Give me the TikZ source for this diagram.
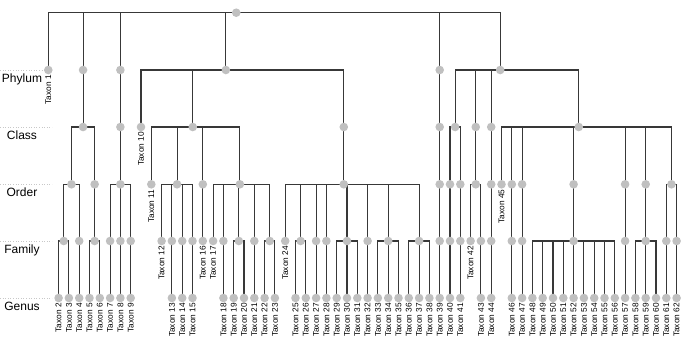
\documentclass[tikz,border=0pt]{standalone}
\usepackage{fontspec}
\setmainfont{Liberation Sans}
\definecolor{dotgray}{HTML}{C0C0C0}
\definecolor{linegray}{HTML}{383838}
\definecolor{guidegray}{HTML}{C8C8C8}
\tikzset{
  edge/.style={draw=linegray, line width=1.1pt},
  dotnode/.style={circle, fill=dotgray, draw=none, minimum size=8.6pt, inner sep=0pt},
  tax/.style={rotate=90, anchor=east, inner sep=0pt, font=\fontsize{8.3}{9}\selectfont},
  lvl/.style={anchor=base, inner sep=0pt, font=\fontsize{12}{14}\selectfont},
  guide/.style={draw=guidegray, dotted, line width=0.6pt}
}
\begin{document}
\begin{tikzpicture}[x=1pt, y=-1pt]
\useasboundingbox (0,0) rectangle (692,343);
% level guides and labels
\foreach \yy/\nm/\lb in {70/phylum/Phylum, 127/class/Class, 184.3/order/Order, 241/family/Family, 298/genus/Genus}{
  \draw[guide] (0,\yy) -- (52,\yy);
  \node[lvl] (lv\nm) at (22,\yy+12.5) {\lb};
}
% leaves
\foreach \n/\lv in {1/70, 2/298, 3/298, 4/298, 5/298, 6/298, 7/298, 8/298, 9/298,
  10/127, 11/184.3, 12/241, 13/298, 14/298, 15/298, 16/241, 17/241,
  18/298, 19/298, 20/298, 21/298, 22/298, 23/298, 24/241,
  25/298, 26/298, 27/298, 28/298, 29/298, 30/298, 31/298, 32/298, 33/298, 34/298,
  35/298, 36/298, 37/298, 38/298, 39/298, 40/298, 41/298, 42/241, 43/298, 44/298,
  45/184.3, 46/298, 47/298, 48/298, 49/298, 50/298, 51/298, 52/298, 53/298, 54/298,
  55/298, 56/298, 57/298, 58/298, 59/298, 60/298, 61/298, 62/298}{
  \coordinate (t\n) at ({48.3+(\n-1)*10.3},\lv);
}
% internal nodes
\coordinate (r) at (236.25,12.7);
\coordinate (pA) at (83.06,70);   \coordinate (cA) at (83.06,127);
\coordinate (oA1) at (71.475,184.3); \coordinate (oA2) at (94.65,184.3);
\coordinate (fA1) at (63.75,241); \coordinate (fA2) at (79.2,241); \coordinate (fA3) at (94.65,241);
\coordinate (pB) at (120.4,70); \coordinate (cB) at (120.4,127); \coordinate (oB) at (120.4,184.3);
\coordinate (fB1) at (110.1,241); \coordinate (fB2) at (120.4,241); \coordinate (fB3) at (130.7,241);
\coordinate (pC) at (225.85,70);
\coordinate (cC1) at (192.76,127); \coordinate (cC2) at (343.78,127);
\coordinate (oC1) at (177.05,184.3); \coordinate (oC2) at (202.8,184.3); \coordinate (oC3) at (239.88,184.3);
\coordinate (oC4) at (343.78,184.3);
\coordinate (f13) at (171.9,241); \coordinate (f14) at (182.2,241); \coordinate (f15) at (192.5,241);
\coordinate (f18) at (223.4,241); \coordinate (f19) at (238.85,241); \coordinate (f21) at (254.3,241);
\coordinate (f22) at (269.75,241);
\coordinate (f25) at (300.65,241); \coordinate (f27) at (316.1,241); \coordinate (f28) at (326.4,241);
\coordinate (f29) at (347.0,241); \coordinate (f32) at (367.6,241); \coordinate (f33) at (388.2,241);
\coordinate (f36) at (419.1,241);
\coordinate (pD) at (439.7,70); \coordinate (cD) at (439.7,127); \coordinate (oD) at (439.7,184.3);
\coordinate (fD) at (439.7,241);
\coordinate (pE) at (500.21,70);
\coordinate (cE1) at (455.15,127); \coordinate (cE2) at (475.75,127); \coordinate (cE3) at (491.2,127);
\coordinate (cE4) at (578.75,127);
\coordinate (oE1) at (450.0,184.3); \coordinate (oE2) at (460.3,184.3); \coordinate (oE3) at (475.75,184.3);
\coordinate (oE4) at (491.2,184.3); \coordinate (oE5) at (511.8,184.3); \coordinate (oE6) at (522.1,184.3);
\coordinate (oE7) at (573.6,184.3); \coordinate (oE8) at (625.1,184.3); \coordinate (oE9) at (645.7,184.3);
\coordinate (oE10) at (671.45,184.3);
\coordinate (f40) at (450.0,241); \coordinate (f41) at (460.3,241); \coordinate (f43) at (480.9,241);
\coordinate (f44) at (491.2,241); \coordinate (f46) at (511.8,241); \coordinate (f47) at (522.1,241);
\coordinate (f48) at (573.6,241); \coordinate (f57) at (625.1,241); \coordinate (f58) at (645.7,241);
\coordinate (f61) at (666.3,241); \coordinate (f62) at (676.6,241);
% connectors
\foreach \c/\p in {t1/r, pA/r, pB/r, pC/r, pD/r, pE/r,
  cA/pA, oA1/cA, oA2/cA, fA1/oA1, fA2/oA1, fA3/oA2, t2/fA1, t3/fA1, t4/fA2, t5/fA3, t6/fA3,
  cB/pB, oB/cB, fB1/oB, fB2/oB, fB3/oB, t7/fB1, t8/fB2, t9/fB3,
  t10/pC, cC1/pC, cC2/pC,
  t11/cC1, oC1/cC1, oC2/cC1, oC3/cC1,
  t12/oC1, f13/oC1, f14/oC1, f15/oC1, t13/f13, t14/f14, t15/f15,
  t16/oC2,
  t17/oC3, f18/oC3, f19/oC3, f21/oC3, f22/oC3, t18/f18, t19/f19, t20/f19, t21/f21, t22/f22, t23/f22,
  oC4/cC2, t24/oC4, f25/oC4, f27/oC4, f28/oC4, f29/oC4, f32/oC4, f33/oC4, f36/oC4,
  t25/f25, t26/f25, t27/f27, t28/f28, t29/f29, t30/f29, t31/f29, t32/f32,
  t33/f33, t34/f33, t35/f33, t36/f36, t37/f36, t38/f36,
  cD/pD, oD/cD, fD/oD, t39/fD,
  cE1/pE, cE2/pE, cE3/pE, cE4/pE,
  oE1/cE1, oE2/cE1, f40/oE1, f41/oE2, t40/f40, t41/f41,
  oE3/cE2, t42/oE3, f43/oE3, t43/f43,
  oE4/cE3, f44/oE4, t44/f44,
  t45/cE4, oE5/cE4, oE6/cE4, oE7/cE4, oE8/cE4, oE9/cE4, oE10/cE4,
  f46/oE5, t46/f46, f47/oE6, t47/f47, f48/oE7,
  t48/f48, t49/f48, t50/f48, t51/f48, t52/f48, t53/f48, t54/f48, t55/f48, t56/f48,
  f57/oE8, t57/f57, f58/oE9, t58/f58, t59/f58, t60/f58,
  f61/oE10, f62/oE10, t61/f61, t62/f62}{
  \draw[edge] (\c) |- (\p);
}
% dots
\foreach \d in {r, pA, cA, oA1, oA2, fA1, fA2, fA3, pB, cB, oB, fB1, fB2, fB3,
  pC, cC1, cC2, oC1, oC2, oC3, oC4, f13, f14, f15, f18, f19, f21, f22,
  f25, f27, f28, f29, f32, f33, f36, pD, cD, oD, fD,
  pE, cE1, cE2, cE3, cE4, oE1, oE2, oE3, oE4, oE5, oE6, oE7, oE8, oE9, oE10,
  f40, f41, f43, f44, f46, f47, f48, f57, f58, f61, f62}{
  \node[dotnode] (dot\d) at (\d) {};
}
\foreach \n in {1,...,62}{
  \node[dotnode] (dott\n) at (t\n) {};
  \node[tax] (lab\n) at ([yshift=-5pt]t\n) {Taxon \n};
}
\end{tikzpicture}
\end{document}
